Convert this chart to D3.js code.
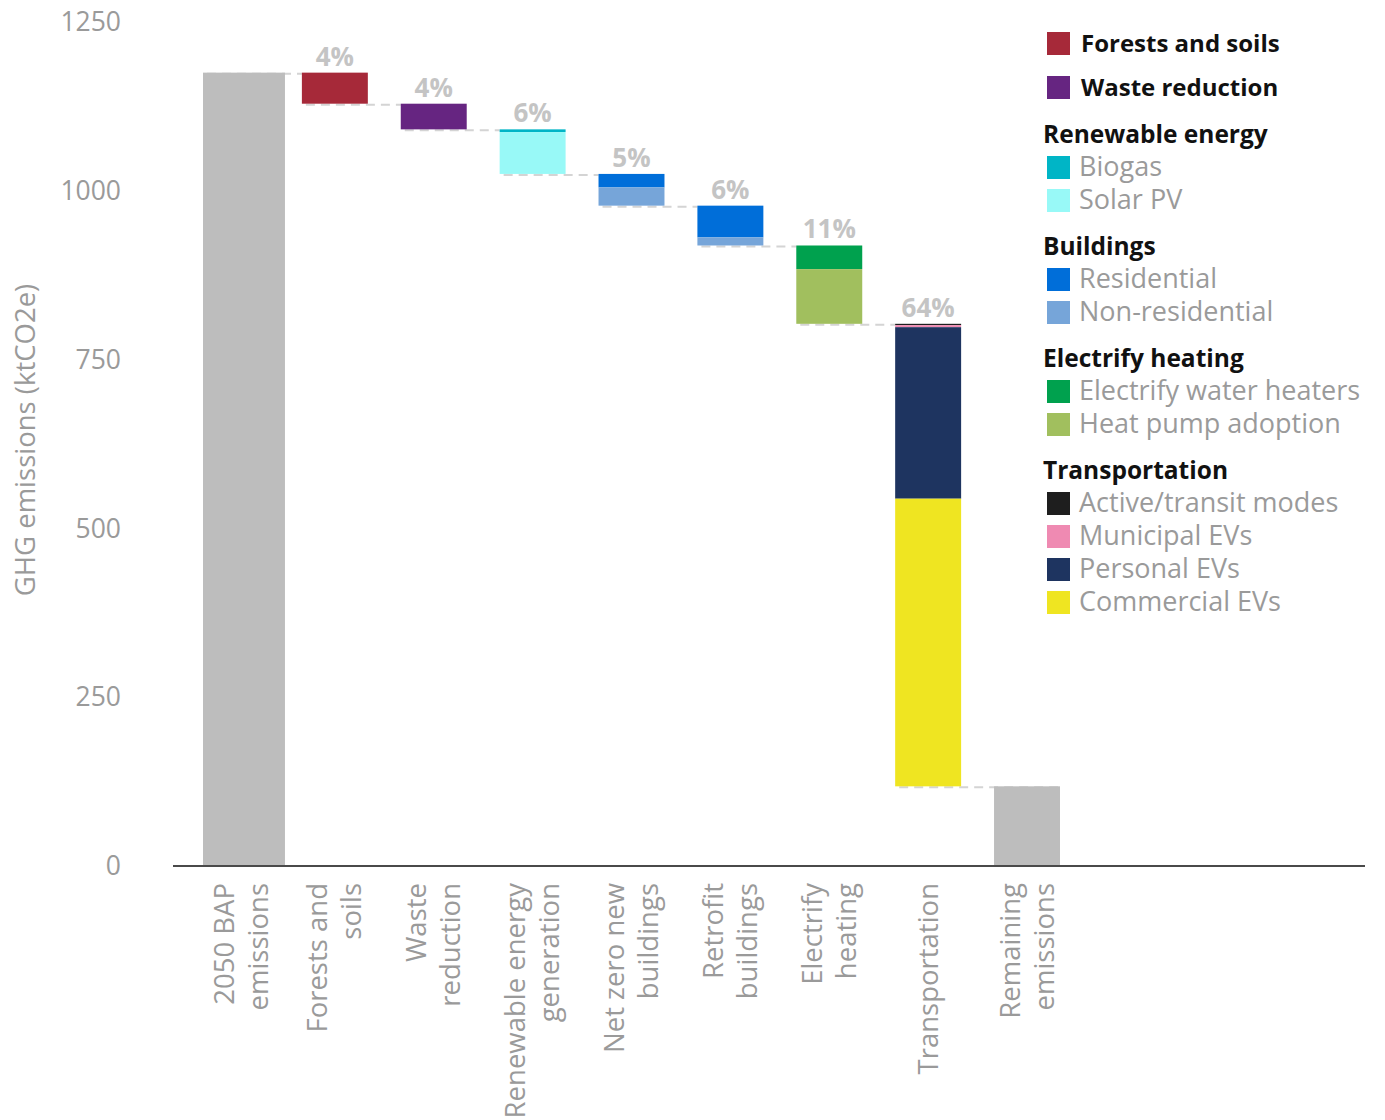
<!DOCTYPE html>
<html>
<head>
<meta charset="utf-8">
<script src="https://cdn.jsdelivr.net/npm/d3@7"></script>
<style>
  body { margin: 0; background: #fff; }
  svg { display: block; }
</style>
</head>
<body>
<svg id="chart" width="1385" height="1120"></svg>
<script>
// categories along the x axis (two lines each, as printed)
const categories = [
  ['2050 BAP', 'emissions'],
  ['Forests and', 'soils'],
  ['Waste', 'reduction'],
  ['Renewable energy', 'generation'],
  ['Net zero new', 'buildings'],
  ['Retrofit', 'buildings'],
  ['Electrify', 'heating'],
  ['Transportation'],
  ['Remaining', 'emissions'],
];
const baselineEmissions = 1175;
const remainingEmissions = 118;

// reduction segments, top to bottom within each step
const segmentStep = [1, 2, 3, 3, 4, 4, 5, 5, 6, 6, 7, 7, 7, 7];
const segmentNames = [
  'Forests and soils', 'Waste reduction',
  'Biogas', 'Solar PV',
  'Residential', 'Non-residential',
  'Residential', 'Non-residential',
  'Electrify water heaters', 'Heat pump adoption',
  'Active/transit modes', 'Municipal EVs', 'Personal EVs', 'Commercial EVs',
];
const segmentValues = [46, 38, 4, 62, 20, 27, 47, 12, 35, 81, 2, 3, 254, 426];
const stepShares = ['4%', '4%', '6%', '5%', '6%', '11%', '64%'];

const yTicks = [0, 250, 500, 750, 1000, 1250];

const legendTitles = [null, null, 'Renewable energy', 'Buildings', 'Electrify heating', 'Transportation'];
const legendItems = [
  ['Forests and soils'],
  ['Waste reduction'],
  ['Biogas', 'Solar PV'],
  ['Residential', 'Non-residential'],
  ['Electrify water heaters', 'Heat pump adoption'],
  ['Active/transit modes', 'Municipal EVs', 'Personal EVs', 'Commercial EVs'],
];

const colors = {
  'Forests and soils': '#a62939',
  'Waste reduction': '#662581',
  'Biogas': '#00b5c6',
  'Solar PV': '#98f9f7',
  'Residential': '#006ed9',
  'Non-residential': '#76a5d9',
  'Electrify water heaters': '#00a14e',
  'Heat pump adoption': '#a1bf5e',
  'Active/transit modes': '#1e1e1e',
  'Municipal EVs': '#ef8ab2',
  'Personal EVs': '#1e3460',
  'Commercial EVs': '#efe521',
};
const totalColor = '#bdbdbd';
const textGray = '#9a9a9a';
const font = "'Open Sans', sans-serif";

const svg = d3.select('#chart');

const x = d3.scaleBand()
    .domain(d3.range(categories.length))
    .range([203, 1060])
    .paddingInner(0.333)
    .paddingOuter(0);

const y = d3.scaleLinear()
    .domain([0, 1250])
    .range([866, 22]);

// build the waterfall pieces
let level = baselineEmissions;
const pieces = segmentValues.map((v, i) => {
  const p = {step: segmentStep[i], name: segmentNames[i], top: level, bottom: level - v};
  level -= v;
  return p;
});
const stepTop = {}, stepBottom = {};
pieces.forEach(p => {
  stepTop[p.step] = Math.max(stepTop[p.step] ?? -Infinity, p.top);
  stepBottom[p.step] = Math.min(stepBottom[p.step] ?? Infinity, p.bottom);
});

// dashed connectors (drawn first, behind bars)
const connectors = d3.range(categories.length - 1).map(i => ({
  i, value: i === 0 ? baselineEmissions : stepBottom[i],
}));
svg.append('g')
    .selectAll('line')
    .data(connectors)
    .enter().append('line')
    .attr('x1', d => x(d.i) + 4)
    .attr('x2', d => x(d.i + 1) + (d.i === 7 ? x.bandwidth() : 0))
    .attr('y1', d => y(d.value) + 1)
    .attr('y2', d => y(d.value) + 1)
    .attr('stroke', '#d4d4d4')
    .attr('stroke-width', 2)
    .attr('stroke-dasharray', '9,6');

// total bars
const totals = [{i: 0, v: baselineEmissions, extra: 16}, {i: 8, v: remainingEmissions, extra: 0}];
svg.append('g')
    .selectAll('rect')
    .data(totals)
    .enter().append('rect')
    .attr('x', d => x(d.i))
    .attr('y', d => y(d.v))
    .attr('width', d => x.bandwidth() + d.extra)
    .attr('height', d => y(0) - y(d.v))
    .attr('fill', totalColor);

// reduction segments
svg.append('g')
    .selectAll('rect')
    .data(pieces)
    .enter().append('rect')
    .attr('x', d => x(d.step))
    .attr('y', d => y(d.top))
    .attr('width', x.bandwidth())
    .attr('height', d => y(d.bottom) - y(d.top))
    .attr('fill', d => colors[d.name]);

// share labels
svg.append('g')
    .selectAll('text')
    .data(stepShares)
    .enter().append('text')
    .attr('x', (d, i) => x(i + 1) + x.bandwidth() / 2)
    .attr('y', (d, i) => y(stepTop[i + 1]) - 7)
    .attr('text-anchor', 'middle')
    .attr('font-family', font)
    .attr('font-weight', 700)
    .attr('font-size', 26)
    .attr('fill', '#c4c4c4')
    .text(d => d);

// baseline axis
svg.append('line')
    .attr('x1', 173).attr('x2', 1365)
    .attr('y1', y(0)).attr('y2', y(0))
    .attr('stroke', '#4a4a4a')
    .attr('stroke-width', 2);

// y tick labels
svg.append('g')
    .selectAll('text')
    .data(yTicks)
    .enter().append('text')
    .attr('x', 121)
    .attr('y', d => y(d))
    .attr('dy', '0.35em')
    .attr('text-anchor', 'end')
    .attr('font-family', font)
    .attr('font-size', 26.5)
    .attr('fill', textGray)
    .text(d => d);

// y axis title
svg.append('text')
    .attr('transform', 'translate(35,440) rotate(-90)')
    .attr('text-anchor', 'middle')
    .attr('font-family', font)
    .attr('font-size', 27.5)
    .attr('fill', textGray)
    .text('GHG emissions (ktCO2e)');

// x labels, rotated, ending just under the axis
const xl = svg.append('g')
    .selectAll('text')
    .data(categories)
    .enter().append('text')
    .attr('transform', (d, i) => {
      const cx = x(i) + x.bandwidth() / 2 + (i === 0 ? 5 : 0);
      return `translate(${cx},883) rotate(-90)`;
    })
    .attr('text-anchor', 'end')
    .attr('font-family', font)
    .attr('font-size', 27.5)
    .attr('fill', textGray);
xl.selectAll('tspan')
    .data(d => d.map((t, k) => ({t, k, n: d.length})))
    .enter().append('tspan')
    .attr('x', 0)
    .attr('y', d => d.n === 1 ? 0 : (d.k === 0 ? -17 : 17))
    .attr('dy', '0.35em')
    .text(d => d.t);

// legend
const legend = svg.append('g');
let ly = 44;
legendTitles.forEach((title, g) => {
  if (title) {
    ly += 46;
    legend.append('text')
        .attr('x', 1043).attr('y', ly).attr('dy', '0.35em')
        .attr('font-family', font).attr('font-weight', 700).attr('font-size', 24.5)
        .attr('fill', '#111')
        .text(title);
    legendItems[g].forEach(name => {
      ly += 33;
      legend.append('rect')
          .attr('x', 1047).attr('y', ly - 11).attr('width', 23).attr('height', 23)
          .attr('fill', colors[name]);
      legend.append('text')
          .attr('x', 1079).attr('y', ly).attr('dy', '0.35em')
          .attr('font-family', font).attr('font-size', 27)
          .attr('fill', textGray)
          .text(name);
    });
  } else {
    if (g > 0) ly += 44;
    const name = legendItems[g][0];
    legend.append('rect')
        .attr('x', 1047).attr('y', ly - 12).attr('width', 23).attr('height', 23)
        .attr('fill', colors[name]);
    legend.append('text')
        .attr('x', 1081).attr('y', ly).attr('dy', '0.35em')
        .attr('font-family', font).attr('font-weight', 700).attr('font-size', 24)
        .attr('fill', '#111')
        .text(name);
  }
});
</script>
</body>
</html>
